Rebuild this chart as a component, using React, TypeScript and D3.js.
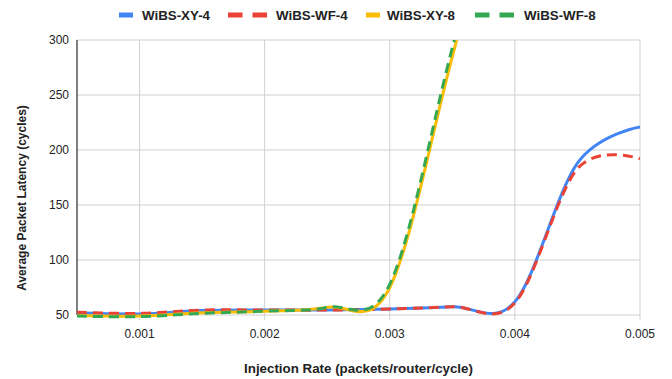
import React from "react";
import * as d3 from "d3";

const xs = [0.0005, 0.001, 0.0015, 0.002, 0.0025, 0.003, 0.0035, 0.004, 0.0045, 0.005];
const xy4 = [52, 51, 54, 54.5, 54.5, 55.5, 57.5, 62, 188, 221];
const wf4 = [52.5, 51.5, 54.5, 54.5, 54.5, 55.5, 57.5, 61, 183, 192];
const xy8 = [49.5, 49, 52, 53.5, 57, 75, 285, 500, 700, 850];
const wf8 = [49, 48.5, 51.5, 53.5, 57, 78, 293, 510, 710, 860];
const seriesNames = ["WiBS-XY-4", "WiBS-WF-4", "WiBS-XY-8", "WiBS-WF-8"];
const seriesColors = ["#4285f4", "#ea4335", "#fbbc04", "#34a853"];
const seriesDashed = [false, true, false, true];
const xTicks = [0.001, 0.002, 0.003, 0.004, 0.005];
const yTicks = [50, 100, 150, 200, 250, 300];

export default function App() {
  const W = 672, H = 379;
  const left = 77, right = 640, top = 40, bottom = 315;
  const x = d3.scaleLinear().domain([0.0005, 0.005]).range([left, right]);
  const y = d3.scaleLinear().domain([50, 300]).range([bottom, top]);
  const all = [xy4, wf4, xy8, wf8];
  const line = d3.line<number>()
    .x((_, i) => x(xs[i]))
    .y((d) => y(d))
    .curve(d3.curveCardinal.tension(0));
  const font = "Arial, 'Liberation Sans', sans-serif";
  const legendItems = [
    { sx: 119, tx: 142 },
    { sx: 228, tx: 276 },
    { sx: 366, tx: 387 },
    { sx: 475, tx: 524 },
  ];
  return (
    <svg width={W} height={H} style={{ position: "absolute", left: 0, top: 0, background: "#fff" }} fontFamily={font}>
      <defs>
        <clipPath id="plot">
          <rect x={left} y={top} width={right - left} height={bottom - top + 4} />
        </clipPath>
      </defs>
      {yTicks.map((t) => (
        <g key={t}>
          <line x1={left} x2={right} y1={y(t)} y2={y(t)} stroke="#d0d0d0" strokeWidth={1} />
          <text x={left - 8} y={y(t)} dy="0.35em" textAnchor="end" fontSize={12} fill="#222">{t}</text>
        </g>
      ))}
      {xTicks.map((t) => (
        <g key={t}>
          <line x1={x(t)} x2={x(t)} y1={top} y2={bottom + 5} stroke="#d0d0d0" strokeWidth={1} />
          <text x={x(t)} y={338} textAnchor="middle" fontSize={12} fill="#222">{t}</text>
        </g>
      ))}
      <line x1={left} x2={left} y1={top} y2={bottom} stroke="#000" strokeWidth={1} />
      <g clipPath="url(#plot)">
        {all.map((s, i) => (
          <path key={i} d={line(s) || ""} fill="none" stroke={seriesColors[i]} strokeWidth={3}
            strokeDasharray={seriesDashed[i] ? "10,6" : undefined} strokeLinecap="butt" />
        ))}
      </g>
      {legendItems.map((it, i) => (
        <g key={i}>
          {seriesDashed[i] ? (
            <>
              <rect x={it.sx} y={12.5} width={14.5} height={5} fill={seriesColors[i]} />
              <rect x={it.sx + 24.5} y={12.5} width={14.5} height={5} fill={seriesColors[i]} />
            </>
          ) : (
            <rect x={it.sx} y={12.5} width={14} height={5} fill={seriesColors[i]} />
          )}
          <text x={it.tx} y={15} dy="0.35em" fontSize={13.33} fontWeight="bold" fill="#222">{seriesNames[i]}</text>
        </g>
      ))}
      <text x={358.5} y={373} textAnchor="middle" fontSize={13.33} fontWeight="bold" fill="#222">Injection Rate (packets/router/cycle)</text>
      <text transform={`translate(26,198) rotate(-90)`} textAnchor="middle" fontSize={12} fontWeight="bold" fill="#222">Average Packet Latency (cycles)</text>
    </svg>
  );
}
